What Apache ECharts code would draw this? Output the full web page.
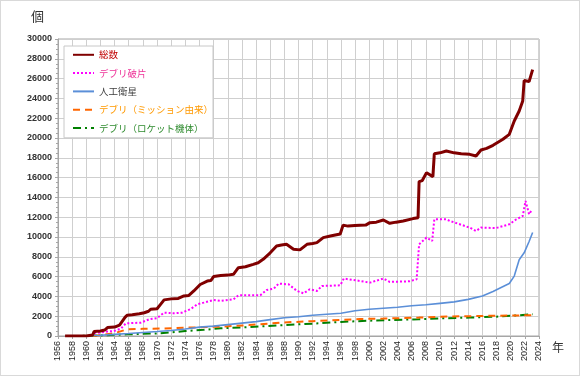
<!DOCTYPE html>
<html>
<head>
<meta charset="utf-8">
<script src="https://cdn.jsdelivr.net/npm/echarts@6/dist/echarts.min.js"></script>
<style>
  html, body { margin: 0; padding: 0; background: #fff; }
  #chart { width: 580px; height: 376px; box-sizing: border-box; border: 1px solid #d9d9d9; }
</style>
</head>
<body>
<div id="chart"></div>
<script>
// [year, count]
const totalData = [[1957,0],[1958,0],[1959,0],[1960,10],[1960.9,100],[1961.1,450],[1962,500],[1962.6,600],[1963,850],[1964,900],[1964.7,1100],[1965.1,1500],[1965.5,1900],[1965.8,2100],[1966.5,2150],[1967.5,2250],[1968.2,2350],[1968.8,2500],[1969.1,2700],[1970,2750],[1970.5,3200],[1971,3650],[1972,3750],[1973,3800],[1973.8,4050],[1974.5,4100],[1975.2,4550],[1976.1,5200],[1977.1,5550],[1977.6,5600],[1978,6000],[1979,6100],[1980,6150],[1980.8,6230],[1981.5,6900],[1982.5,7000],[1983.6,7240],[1984.3,7400],[1985,7750],[1986,8400],[1986.9,9100],[1987.6,9200],[1988.3,9260],[1989.3,8760],[1990.2,8700],[1991.2,9260],[1992,9350],[1992.6,9430],[1993.5,9940],[1994.5,10100],[1995.9,10300],[1996.3,11200],[1997,11100],[1998,11150],[1998.7,11180],[1999.5,11200],[2000.1,11450],[2001,11500],[2002,11720],[2002.9,11380],[2003.8,11500],[2004.8,11620],[2006.2,11860],[2006.9,11950],[2007.05,15600],[2007.5,15700],[2008.1,16500],[2009,16100],[2009.2,18400],[2010,18500],[2010.9,18690],[2012,18500],[2013,18400],[2014.2,18350],[2015.1,18180],[2015.8,18790],[2016.6,18950],[2017.5,19260],[2018.9,19870],[2019.8,20370],[2020.5,21720],[2021.2,22730],[2021.7,23740],[2021.9,25800],[2022.6,25700],[2023.1,26900]];
const debrisData = [[1961.1,300],[1962,350],[1963,450],[1963.9,500],[1964.9,750],[1965.6,1280],[1967.7,1350],[1968.9,1690],[1970,1800],[1970.5,2090],[1971,2360],[1972.4,2300],[1973.5,2350],[1974.7,2700],[1975.7,3200],[1976.6,3370],[1978,3640],[1979,3540],[1980.8,3700],[1981.5,4110],[1984.6,4110],[1985.5,4650],[1986.5,4780],[1987.2,5290],[1988.6,5220],[1989.8,4550],[1990.7,4310],[1991.6,4720],[1992.6,4550],[1993.3,5050],[1995.9,5120],[1996.4,5800],[1998.7,5560],[2000.1,5390],[2002,5800],[2002.9,5460],[2005.7,5530],[2006.7,5730],[2006.95,5800],[2007.05,9260],[2008.1,9940],[2008.9,9600],[2009.1,9700],[2009.2,11790],[2010.9,11790],[2011.4,11620],[2014.2,10950],[2015.1,10610],[2015.8,10950],[2017.9,10900],[2019.8,11280],[2020.8,11790],[2021.7,12120],[2022.1,13640],[2022.6,12290],[2022.9,12630]];
const satelliteData = [[1957.8,0],[1960,20],[1962,80],[1964,160],[1966,250],[1968,350],[1970,450],[1972,560],[1974,700],[1976,900],[1978,1000],[1980,1150],[1982,1300],[1984,1450],[1986,1650],[1988,1850],[1990,1950],[1992,2100],[1994,2200],[1996,2300],[1998,2550],[2000,2700],[2002,2800],[2004,2900],[2006,3050],[2008,3150],[2010,3300],[2012,3450],[2014,3700],[2016,4050],[2017.5,4500],[2018.5,4850],[2019.8,5300],[2020.5,6050],[2021.2,7700],[2021.9,8400],[2022.6,9550],[2023.1,10450]];
const missionData = [[1961,0],[1962,100],[1963.9,270],[1965.8,680],[1968,720],[1970.5,750],[1975,860],[1979,950],[1983,1100],[1987.4,1350],[1992,1500],[1996,1620],[1998.7,1720],[2002,1760],[2007,1860],[2010,1950],[2014.2,2000],[2018,2050],[2023.1,2100]];
const rocketData = [[1957.8,0],[1960,20],[1962,60],[1964,120],[1965.8,170],[1970.5,270],[1974,500],[1976.6,620],[1979,780],[1983,900],[1987.4,1080],[1992,1250],[1996,1420],[2000,1550],[2007,1690],[2011,1800],[2014.2,1860],[2018,1950],[2023.1,2190]];

const chart = echarts.init(document.getElementById('chart'));
const font = 'Liberation Sans, Arial, sans-serif';

chart.setOption({
  animation: false,
  textStyle: { fontFamily: font },
  grid: { left: 57, right: 40, top: 38, bottom: 39, show: true, borderColor: '#a6a6a6', borderWidth: 1 },
  graphic: [
    { type: 'text', left: 30, top: 9, style: { text: '個', font: '13px "Noto Sans CJK JP"', fill: '#333' } },
    { type: 'text', left: 551, top: 340, style: { text: '年', font: '12px "Noto Sans CJK JP"', fill: '#333' } }
  ],
  legend: {
    orient: 'vertical',
    left: 63, top: 45,
    padding: [4, 0, 5, 8],
    itemWidth: 21, itemHeight: 12, itemGap: 8.7,
    backgroundColor: '#fff',
    borderColor: '#c8c8c8', borderWidth: 1,
    itemStyle: { opacity: 0 },
    textStyle: { fontSize: 9.5, fontFamily: '"Noto Sans CJK JP"' },
    data: [
      { name: '総数', textStyle: { color: '#c00000' } },
      { name: 'デブリ破片', textStyle: { color: '#ee3399' } },
      { name: '人工衛星', textStyle: { color: '#404040' } },
      { name: 'デブリ（ミッション由来）', textStyle: { color: '#ff9900' } },
      { name: 'デブリ（ロケット機体）', textStyle: { color: '#2e8b2e' } }
    ]
  },
  xAxis: {
    type: 'value', min: 1956, max: 2024, interval: 2,
    axisLine: { lineStyle: { color: '#a6a6a6' } },
    axisTick: { show: true, length: 3, lineStyle: { color: '#a6a6a6' } },
    axisLabel: { rotate: 90, fontSize: 9, color: '#222', margin: 5, formatter: v => String(v) },
    splitLine: { show: true, lineStyle: { color: '#cfcfcf' } }
  },
  yAxis: {
    type: 'value', min: 0, max: 30000, interval: 2000,
    axisLine: { show: true, lineStyle: { color: '#a6a6a6' } },
    axisTick: { show: true, length: 3, lineStyle: { color: '#a6a6a6' } },
    minorTick: { show: true, splitNumber: 4, length: 2, lineStyle: { color: '#a6a6a6' } },
    axisLabel: { fontSize: 9, color: '#333', fontWeight: 'bold', margin: 6, formatter: v => String(v) },
    splitLine: { show: true, lineStyle: { color: '#cfcfcf' } }
  },
  series: [
    { name: 'デブリ（ロケット機体）', type: 'line', data: rocketData, symbol: 'none', z: 2,
      lineStyle: { color: '#008000', width: 2, type: [8, 4, 2, 4] }, itemStyle: { color: '#008000' } },
    { name: 'デブリ（ミッション由来）', type: 'line', data: missionData, symbol: 'none', z: 3,
      lineStyle: { color: '#ff6600', width: 2, type: [7, 5] }, itemStyle: { color: '#ff6600' } },
    { name: '人工衛星', type: 'line', data: satelliteData, symbol: 'none', z: 4,
      lineStyle: { color: '#5b8fd8', width: 1.6 }, itemStyle: { color: '#5b8fd8' } },
    { name: 'デブリ破片', type: 'line', data: debrisData, symbol: 'none', z: 5,
      lineStyle: { color: '#ff00ff', width: 2, type: [2, 2] }, itemStyle: { color: '#ff00ff' } },
    { name: '総数', type: 'line', data: totalData, symbol: 'none', z: 6,
      lineStyle: { color: '#800000', width: 3 }, itemStyle: { color: '#800000' } }
  ]
});
</script>
</body>
</html>
